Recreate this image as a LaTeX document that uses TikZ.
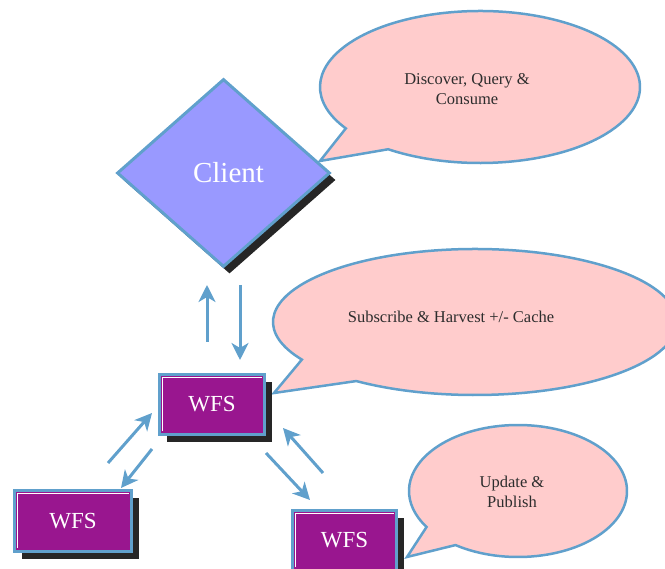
\documentclass[tikz,border=0pt]{standalone}
\usepackage{fontspec}
\setmainfont{Liberation Serif}
\usetikzlibrary{shapes.geometric,shadows,arrows.meta,calc}

\definecolor{bordbleu}{RGB}{96,160,204}
\definecolor{clientbleu}{RGB}{153,153,255}
\definecolor{wfsviolet}{RGB}{153,22,143}
\definecolor{bullerose}{RGB}{255,204,204}
\definecolor{textegris}{RGB}{45,45,45}

\tikzset{
	client/.style={diamond, draw=bordbleu, line width=3pt, fill=clientbleu, inner sep=0pt,
		minimum width=213pt, minimum height=188pt, text=white, font=\fontsize{29}{31}\selectfont,
		drop shadow={shadow xshift=6pt, shadow yshift=-7pt, fill=black!85, opacity=1}},
	wfs/.style={rectangle, draw=bordbleu, line width=3pt, fill=wfsviolet, text=white,
		font=\fontsize{23}{25}\selectfont,
		drop shadow={shadow xshift=7pt, shadow yshift=-8pt, fill=black!85, opacity=1},
		path picture={\draw[white, line width=1.5pt]
			([shift={(3pt,3pt)}]path picture bounding box.south west) |-
			([shift={(-3pt,-3pt)}]path picture bounding box.north east);}},
	bulle/.style={draw=bordbleu, line width=2.5pt, fill=bullerose, line join=miter},
	texte/.style={text=textegris, align=center, font=\fontsize{16.5}{19.5}\selectfont},
	fleche/.style={draw=bordbleu, line width=3pt, -{Stealth[length=17pt, width=17pt, inset=5pt]}}
}

\begin{document}
\begin{tikzpicture}[x=1pt,y=1pt]
	\clip (0,0) rectangle (665,-569);
	% les bulles
	\coordinate (b1) at (480,-87);
	\coordinate (pointe1) at (320,-161);
	\draw[bulle] ($(b1)+(213:160pt and 76pt)$) -- (pointe1) -- ($(b1)+(235:160pt and 76pt)$)
		arc[start angle=235, end angle=573, x radius=160pt, y radius=76pt] -- cycle;
	\node[texte] (t1) at (467,-89) {Discover, Query \&\\ Consume};

	\coordinate (b2) at (475,-322);
	\coordinate (pointe2) at (274,-393);
	\draw[bulle] ($(b2)+(211:202pt and 73pt)$) -- (pointe2) -- ($(b2)+(234:202pt and 73pt)$)
		arc[start angle=234, end angle=571, x radius=202pt, y radius=73pt] -- cycle;
	\node[texte] (t2) at (451,-317) {Subscribe \& Harvest +/- Cache};

	\coordinate (b3) at (518,-491);
	\coordinate (pointe3) at (407,-557);
	\draw[bulle] ($(b3)+(213:109pt and 66pt)$) -- (pointe3) -- ($(b3)+(235:109pt and 66pt)$)
		arc[start angle=235, end angle=573, x radius=109pt, y radius=66pt] -- cycle;
	\node[texte] (t3) at (512,-492) {Update \&\\ Publish};

	% client et serveurs
	\node[client] (client) at (223.5,-173) {\hspace*{10pt}Client};
	\node[wfs, minimum width=105pt, minimum height=60pt] (wfsa) at (212,-404.5) {WFS};
	\node[wfs, minimum width=117pt, minimum height=61pt] (wfsb) at (73,-521) {WFS};
	\node[wfs, minimum width=104pt, minimum height=60pt] (wfsc) at (344.5,-540.5) {WFS};

	% les fleches
	\coordinate (h1) at (207,-342); \coordinate (h2) at (207,-285);
	\coordinate (d1) at (240,-285); \coordinate (d2) at (240,-360);
	\coordinate (g1) at (108,-463); \coordinate (g2) at (152,-413);
	\coordinate (g3) at (152,-449); \coordinate (g4) at (121,-488);
	\coordinate (r1) at (266,-453); \coordinate (r2) at (310,-500);
	\coordinate (r3) at (323,-473); \coordinate (r4) at (283,-428);
	\draw[fleche] (h1) -- (h2);
	\draw[fleche] (d1) -- (d2);
	\draw[fleche] (g1) -- (g2);
	\draw[fleche] (g3) -- (g4);
	\draw[fleche] (r1) -- (r2);
	\draw[fleche] (r3) -- (r4);
\end{tikzpicture}
\end{document}
